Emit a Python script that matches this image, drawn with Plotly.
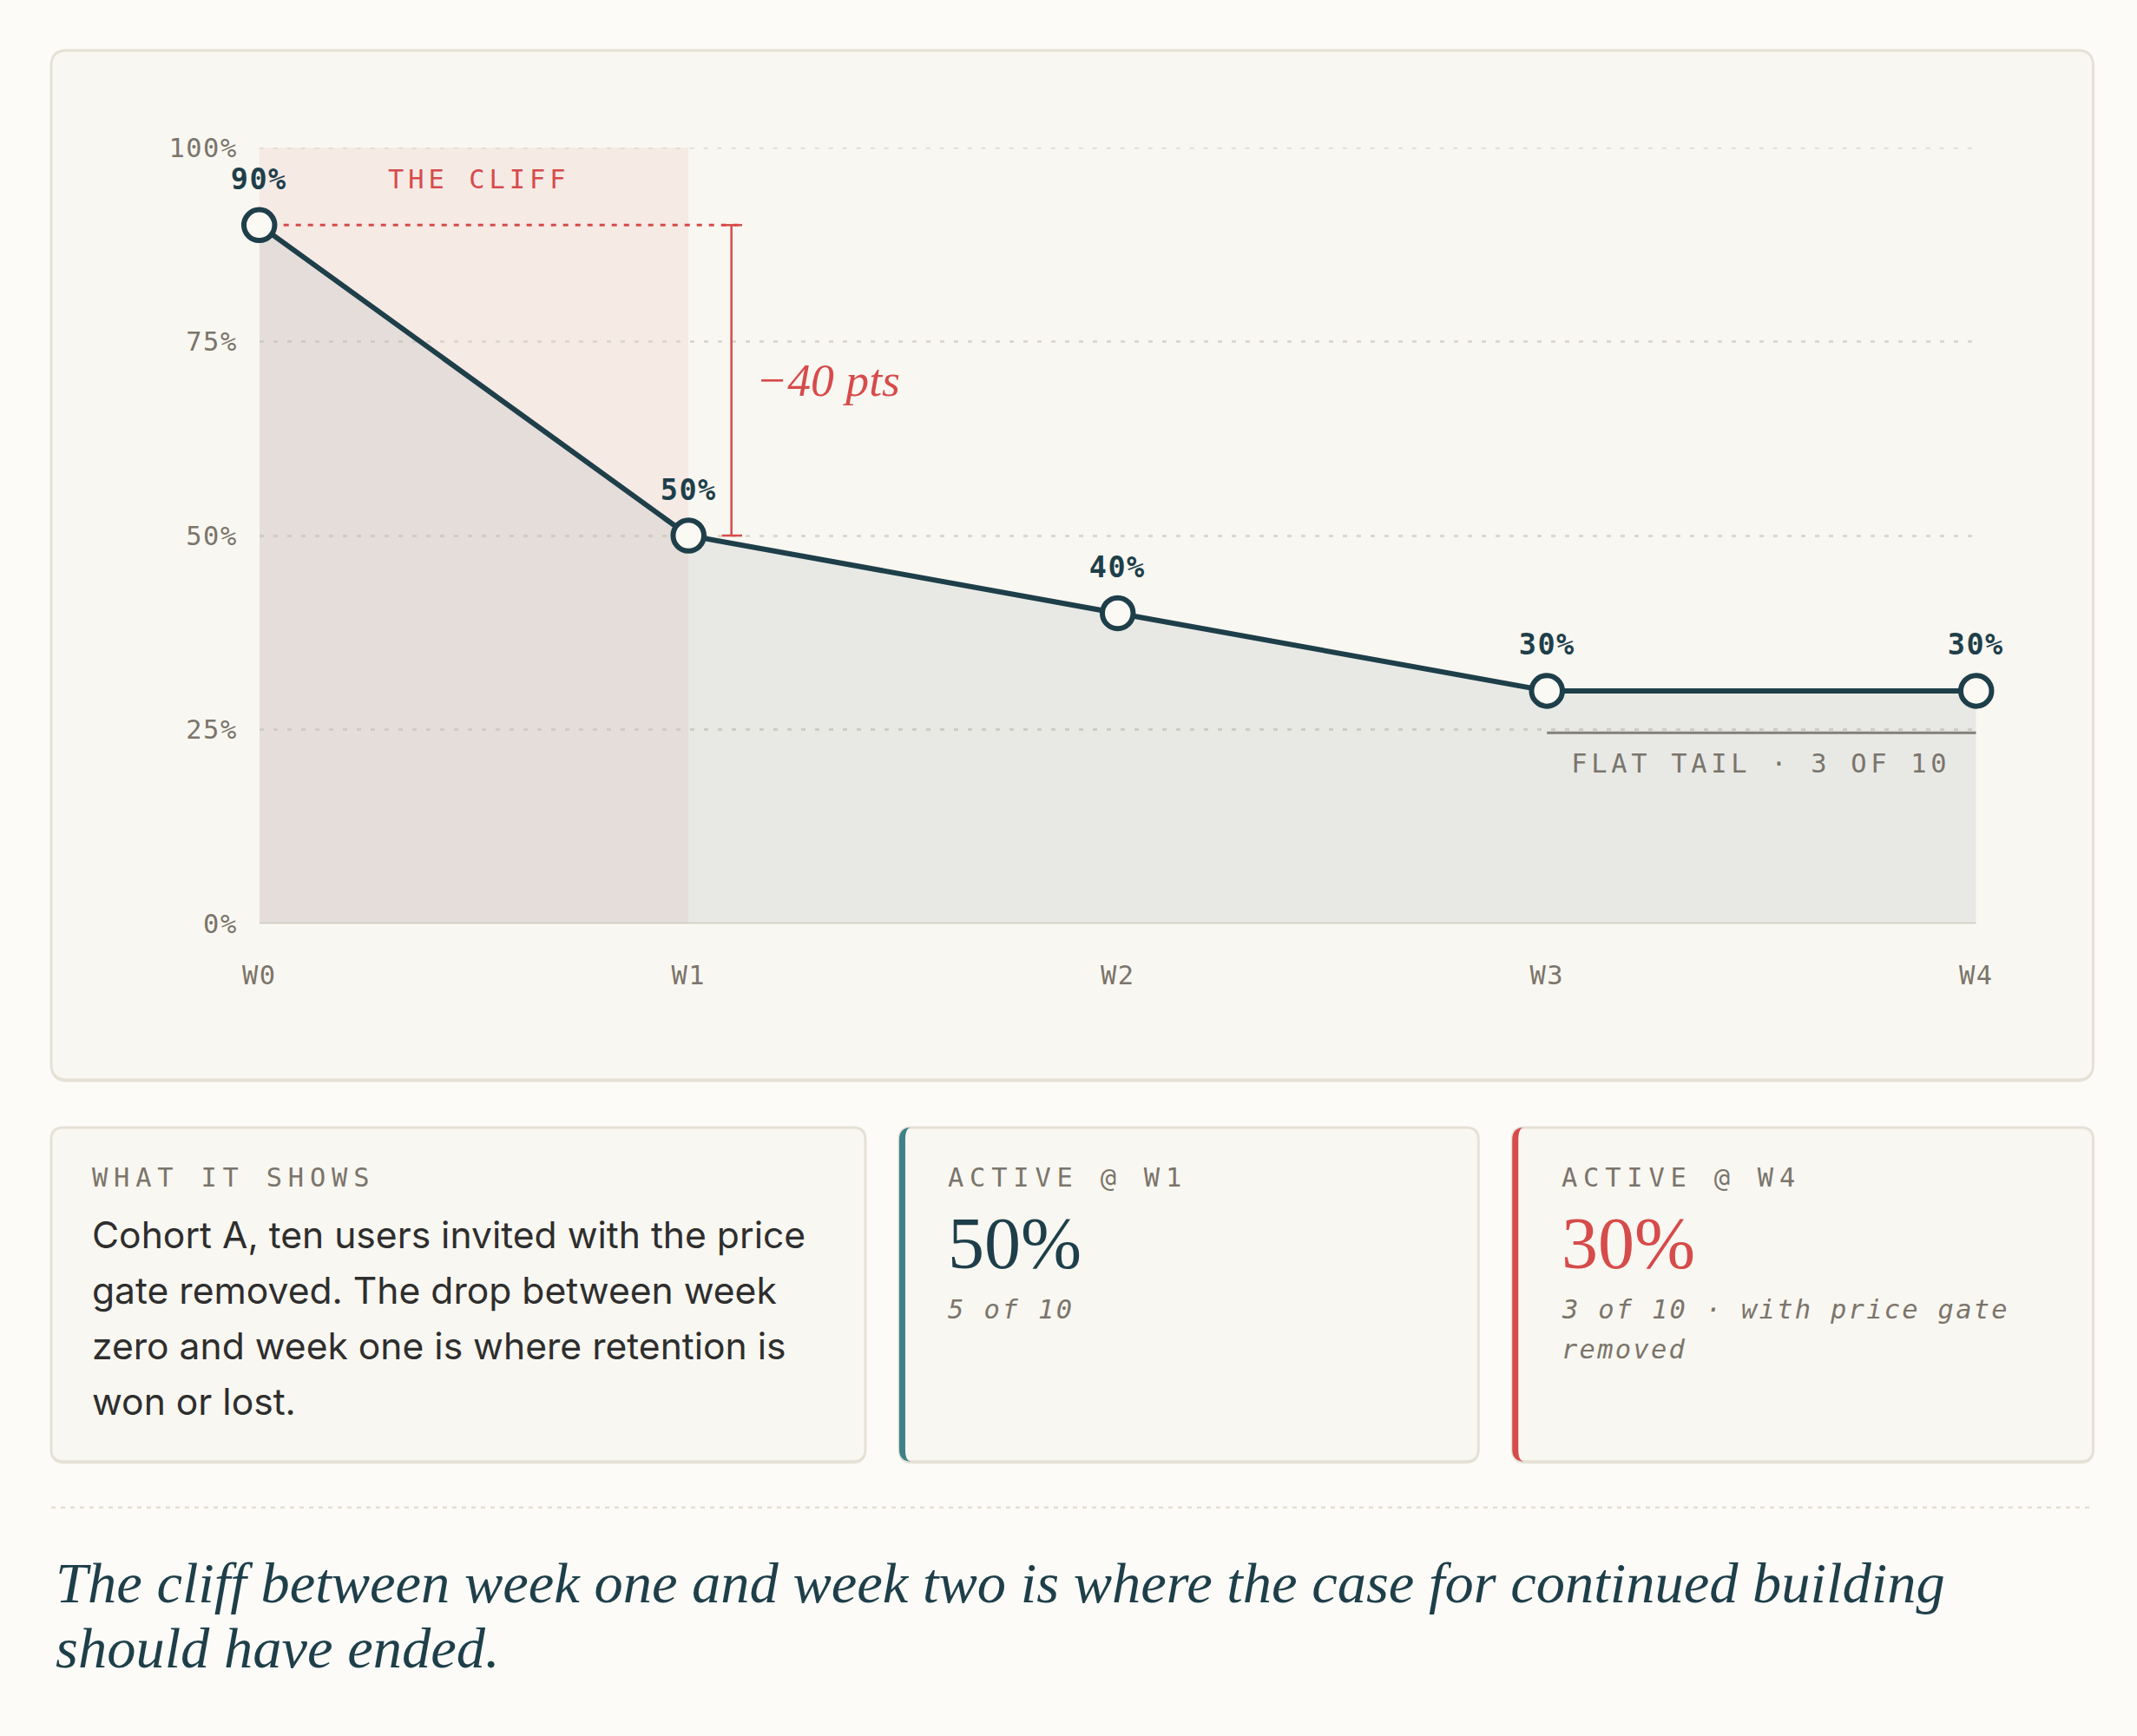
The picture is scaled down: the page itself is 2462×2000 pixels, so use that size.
import json
import plotly.graph_objects as go

W, H = 2462, 2000
# the photo of the page comes back with a ~17px frame and slightly shrunk;
# layout positions below are given in final-picture pixels and mapped back
OFF, SX, SY = 17, 2462 / 2496, 2000 / 2034
K = 1 / SX

# data
weeks = ["W0", "W1", "W2", "W3", "W4"]
retention = [90, 50, 40, 30, 30]
y_ticks = [0, 25, 50, 75, 100]
y_tick_labels = ["0%", "25%", "50%", "75%", "100%"]
cohort_size = 10

what_title = "WHAT IT SHOWS"
what_lines = [
    "Cohort A, ten users invited with the price",
    "gate removed. The drop between week",
    "zero and week one is where retention is",
    "won or lost.",
]
takeaway_lines = [
    "The cliff between week one and week two is where the case for continued building",
    "should have ended.",
]

# palette / fonts
BG = "#fcfbf7"
CARD = "#f9f7f1"
BORDER = "#e5e1d6"
INK = "#1e3f4a"
RED = "#d64b4b"
TEAL = "#3f8189"
MUTED = "#7b756c"
TEXT = "#2e2e2e"
GRID = "#ddd8cd"
GRID_DASH = "5px,11px"

MONO = "DejaVu Sans Mono"
SANS = "Inter"
SERIF = "Liberation Serif"


def px(x):
    return (x - OFF) / SX / W


def py(y):
    return 1 - (y - OFF) / SY / H


def fs(size):
    return round(size * K, 1)


def rounded_path(x0, y0, x1, y1, r):
    rx, ry = r / SX / W, r / SY / H
    a, b, c, d = px(x0), py(y0), px(x1), py(y1)
    return (f"M {a+rx},{b} L {c-rx},{b} Q {c},{b} {c},{b-ry} "
            f"L {c},{d+ry} Q {c},{d} {c-rx},{d} L {a+rx},{d} "
            f"Q {a},{d} {a},{d+ry} L {a},{b-ry} Q {a},{b} {a+rx},{b} Z")


def accent_path(x0, y0, y1, r, w):
    rx, ry = r / SX / W, r / SY / H
    a, b, d, e = px(x0), py(y0), py(y1), px(x0 + w)
    return (f"M {a+rx},{b} Q {a},{b} {a},{b-ry} L {a},{d+ry} Q {a},{d} {a+rx},{d} "
            f"Q {e},{d} {e},{d+ry} L {e},{b-ry} Q {e},{b} {a+rx},{b} Z")


def card(x0, y0, x1, y1, r):
    # soft bottom edge, then the card itself
    return [
        dict(type="path", xref="paper", yref="paper", layer="below",
             path=rounded_path(x0, y0 + 2.5, x1, y1 + 2.5, r),
             fillcolor=BORDER, line=dict(width=0)),
        dict(type="path", xref="paper", yref="paper", layer="below",
             path=rounded_path(x0, y0, x1, y1, r),
             fillcolor=CARD, line=dict(color=BORDER, width=3)),
    ]


x_idx = list(range(len(weeks)))

fig = go.Figure()
fig.add_trace(go.Scatter(
    x=x_idx, y=retention,
    mode="lines+markers",
    fill="tozeroy",
    fillcolor="rgba(30,63,74,0.075)",
    line=dict(color=INK, width=6),
    marker=dict(size=fs(35), color="#fbf9f4", line=dict(color=INK, width=6)),
    cliponaxis=False,
    hoverinfo="skip",
))

shapes = []
shapes += card(58, 58, 2413, 1245, 18)
cards = [(58, 997, None), (1036, 1704, TEAL), (1743, 2413, RED)]
for cx0, cx1, accent in cards:
    shapes += card(cx0, 1300, cx1, 1685, 14)
    if accent:
        shapes.append(dict(type="path", xref="paper", yref="paper", layer="below",
                           path=accent_path(cx0, 1300, 1685, 14, 7),
                           fillcolor=accent, line=dict(width=0)))
# divider
shapes.append(dict(type="line", xref="paper", yref="paper",
                   x0=px(58), x1=px(2413), y0=py(1738), y1=py(1738),
                   line=dict(color="#e3ded4", width=2.5, dash="5px,6px")))
# cliff band
shapes.append(dict(type="rect", xref="x", yref="y", layer="below",
                   x0=x_idx[0], x1=x_idx[1], y0=0, y1=y_ticks[-1],
                   fillcolor="rgba(214,75,75,0.07)", line=dict(width=0)))
# top gridline (plotly skips grid lines sitting on the range edge)
shapes.append(dict(type="line", xref="x", yref="y", layer="below",
                   x0=x_idx[0], x1=x_idx[-1], y0=y_ticks[-1], y1=y_ticks[-1],
                   line=dict(color=GRID, width=3, dash=GRID_DASH)))
# baseline
shapes.append(dict(type="line", xref="x", yref="y", layer="between",
                   x0=x_idx[0], x1=x_idx[-1], y0=0, y1=0,
                   line=dict(color="#dcd6ca", width=3)))
# drop bracket
bx = x_idx[1] + 0.1
shapes.append(dict(type="line", xref="x", yref="y", layer="between",
                   x0=x_idx[0], x1=bx + 0.025, y0=retention[0], y1=retention[0],
                   line=dict(color=RED, width=3, dash="6px,8px")))
shapes.append(dict(type="line", xref="x", yref="y", layer="between",
                   x0=bx, x1=bx, y0=retention[1], y1=retention[0],
                   line=dict(color=RED, width=2.5)))
for yv in (retention[0], retention[1]):
    shapes.append(dict(type="line", xref="x", yref="y", layer="between",
                       x0=bx - 0.022, x1=bx + 0.025, y0=yv, y1=yv,
                       line=dict(color=RED, width=2.5)))
# flat tail marker
shapes.append(dict(type="line", xref="x", yref="y", layer="between",
                   x0=x_idx[3], x1=x_idx[4], y0=24.6, y1=24.6,
                   line=dict(color="#8b857c", width=3)))

ann = []
# point labels
for xi, v in zip(x_idx, retention):
    ann.append(dict(x=xi, y=v, xref="x", yref="y", text=f"{v}%", showarrow=False,
                    yshift=53, font=dict(family=MONO, size=fs(33), color=INK, weight="bold")))
ann.append(dict(x=0.295, y=95.9, xref="x", yref="y", text="THE CLIFF", showarrow=False,
                xanchor="left", align="left", font=dict(family=MONO, size=fs(30), color=RED)))
drop = retention[0] - retention[1]
ann.append(dict(x=bx + 0.053, y=(retention[0] + retention[1]) / 2, xref="x", yref="y",
                text=f"\u2212{drop} pts", showarrow=False, xanchor="left", align="left",
                font=dict(family=SERIF, size=fs(53), color=RED, style="italic")))
tail_n = round(retention[-1] * cohort_size / 100)
ann.append(dict(x=(x_idx[3] + x_idx[4]) / 2, y=20.6, xref="x", yref="y",
                text=f"FLAT TAIL \u00b7 {tail_n} OF {cohort_size}", showarrow=False,
                font=dict(family=MONO, size=fs(30), color=MUTED)))


def paper_text(x, y, text, font):
    ann.append(dict(x=px(x), y=py(y), xref="paper", yref="paper", text=text,
                    showarrow=False, xanchor="left", yanchor="middle", align="left",
                    font=font))


label_font = dict(family=MONO, size=fs(30), color=MUTED)
sub_font = dict(family=MONO, size=fs(30), color=MUTED, style="italic")

paper_text(103, 1358, what_title, label_font)
for i, line in enumerate(what_lines):
    paper_text(103, 1424 + i * 64, line, dict(family=SANS, size=fs(42), color=TEXT))

w1_n = round(retention[1] * cohort_size / 100)
w4_n = round(retention[4] * cohort_size / 100)
paper_text(1090, 1358, f"ACTIVE @ {weeks[1]}", label_font)
paper_text(1090, 1434, f"{retention[1]}%", dict(family=SERIF, size=fs(83), color=INK))
paper_text(1090, 1510, f"{w1_n} of {cohort_size}", sub_font)

paper_text(1798, 1358, f"ACTIVE @ {weeks[4]}", label_font)
paper_text(1798, 1434, f"{retention[4]}%", dict(family=SERIF, size=fs(83), color=RED))
paper_text(1798, 1510, f"{w4_n} of {cohort_size} \u00b7 with price gate", sub_font)
paper_text(1798, 1556, "removed", sub_font)

for i, line in enumerate(takeaway_lines):
    paper_text(61, 1825 + i * 75, line,
               dict(family=SERIF, size=fs(65.6), color=INK, style="italic"))

fig.update_layout(
    width=W, height=H, autosize=False,
    margin=dict(l=0, r=0, t=0, b=0),
    paper_bgcolor=BG, plot_bgcolor="rgba(0,0,0,0)",
    showlegend=False,
    shapes=shapes, annotations=ann,
    xaxis=dict(domain=[px(298), px(2278)], range=[x_idx[0], x_idx[-1]],
               tickvals=x_idx, ticktext=weeks, showgrid=False, zeroline=False,
               showline=False, ticks="", ticklabelstandoff=38,
               tickfont=dict(family=MONO, size=fs(30), color=MUTED), fixedrange=True),
    yaxis=dict(domain=[py(1065), py(170)], range=[y_ticks[0], y_ticks[-1]],
               tickvals=y_ticks, ticktext=y_tick_labels, showgrid=True,
               gridcolor=GRID, griddash=GRID_DASH, gridwidth=3, zeroline=False,
               showline=False, ticks="", ticklabelstandoff=24,
               tickfont=dict(family=MONO, size=fs(30), color=MUTED), fixedrange=True),
)

# letter spacing for the monospaced labels (plotly has no letter-spacing option)
spacing = {
    "THE CLIFF": 5,
    f"FLAT TAIL \u00b7 {tail_n} OF {cohort_size}": 4.7,
    what_title: 6.8,
    f"ACTIVE @ {weeks[1]}": 6.8,
    f"ACTIVE @ {weeks[4]}": 6.8,
    f"{w1_n} of {cohort_size}": 2.5,
    f"{w4_n} of {cohort_size} \u00b7 with price gate": 2.3,
    "removed": 2.3,
}
post_js = (
    "document.documentElement.style.margin='0';"
    "document.body.style.margin='0';"
    "document.body.style.overflow='hidden';"
    "var sp = " + json.dumps(spacing) + ";"
    "document.querySelectorAll('text').forEach(function(t){"
    "  var fam = t.style.fontFamily || '';"
    "  if (fam.indexOf('Mono') < 0) return;"
    "  var s = sp[t.textContent];"
    "  t.style.letterSpacing = (s !== undefined ? s : 1.5) + 'px';"
    "});"
)

fig.write_html("out.html", config={"displayModeBar": False}, post_script=post_js)
